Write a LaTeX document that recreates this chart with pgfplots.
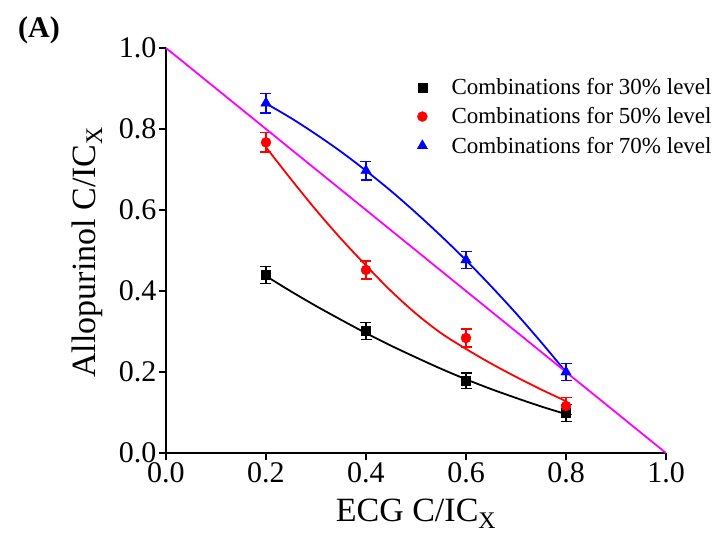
\documentclass[border=0pt]{standalone}
\usepackage{fontspec}
\setmainfont{Liberation Serif}
\usepackage{pgfplots}
\pgfplotsset{compat=1.18}
\definecolor{puremagenta}{RGB}{255,0,255}
\begin{document}
\begin{tikzpicture}
\begin{axis}[
  at={(0,0)}, anchor=south west,
  scale only axis, width=500pt, height=405pt,
  xmin=0, xmax=1, ymin=0, ymax=1,
  clip=false,
  axis lines=left,
  axis line style={line width=2pt, -},
  xtick={0,0.2,0.4,0.6,0.8,1},
  ytick={0,0.2,0.4,0.6,0.8,1},
  tick style={line width=1.8pt, black},
  major tick length=7pt,
  tick align=outside,
  /pgf/number format/assume math mode=true,
  xticklabel={\pgfmathprintnumber[fixed,fixed zerofill,precision=1]{\tick}},
  yticklabel={\pgfmathprintnumber[fixed,fixed zerofill,precision=1]{\tick}},
  ticklabel style={font=\fontsize{30}{33}\selectfont},
  xticklabel style={yshift=1pt},
  yticklabel style={xshift=1pt},
  xlabel={ECG C/IC\textsubscript{X}},
  ylabel={Allopurinol C/IC\textsubscript{X}},
  label style={font=\fontsize{34}{38}\selectfont},
  xlabel style={at={(axis description cs:0.5,-0.168)}, anchor=base},
  ylabel style={at={(axis description cs:-0.158,0.496)}, anchor=center},
  legend style={draw=none, fill=none, at={(axis cs:0.496,0.935)}, anchor=north west,
    font=\fontsize{23}{27}\selectfont, row sep=7.5pt,
    /tikz/every odd column/.append style={column sep=22pt}},
  legend cell align=left,
]
\addplot[only marks, black, mark=square*, mark size=4.5pt,
  error bars/.cd, y dir=both, y explicit,
  error bar style={line width=1.5pt},
  error mark options={line width=1.5pt, mark size=5.5pt, rotate=90}]
  coordinates {(0.2,0.44) +- (0,0.021) (0.4,0.301) +- (0,0.021) (0.6,0.178) +- (0,0.019) (0.8,0.099) +- (0,0.021)};
\addlegendentry{Combinations for 30\% level}
\addplot[only marks, red, mark=*, mark size=5pt,
  error bars/.cd, y dir=both, y explicit,
  error bar style={line width=1.5pt},
  error mark options={line width=1.5pt, mark size=5.5pt, rotate=90}]
  coordinates {(0.2,0.767) +- (0,0.024) (0.4,0.452) +- (0,0.022) (0.6,0.284) +- (0,0.022) (0.8,0.116) +- (0,0.021)};
\addlegendentry{Combinations for 50\% level}
\addplot[only marks, blue, mark=triangle*, mark size=6pt,
  error bars/.cd, y dir=both, y explicit,
  error bar style={line width=1.5pt},
  error mark options={line width=1.5pt, mark size=5.5pt, rotate=90}]
  coordinates {(0.2,0.864) +- (0,0.024) (0.4,0.697) +- (0,0.023) (0.6,0.477) +- (0,0.021) (0.8,0.200) +- (0,0.021)};
\addlegendentry{Combinations for 70\% level}
% fitted curves
\addplot[forget plot, black, line width=1.8pt, smooth] coordinates {(0.2,0.437) (0.25,0.399) (0.3,0.363) (0.35,0.329) (0.4,0.296) (0.45,0.265) (0.5,0.236) (0.55,0.208) (0.6,0.182) (0.65,0.158) (0.7,0.136) (0.75,0.115) (0.8,0.096)};
\addplot[forget plot, red, line width=1.8pt, smooth] coordinates {(0.2,0.755) (0.25,0.676) (0.3,0.600) (0.35,0.529) (0.4,0.463) (0.45,0.400) (0.5,0.344) (0.55,0.296) (0.6,0.257) (0.65,0.221) (0.7,0.188) (0.75,0.157) (0.8,0.128)};
\addplot[forget plot, blue, line width=1.8pt, smooth] coordinates {(0.2,0.863) (0.25,0.827) (0.3,0.787) (0.35,0.744) (0.4,0.697) (0.45,0.647) (0.5,0.593) (0.55,0.536) (0.6,0.476) (0.65,0.412) (0.7,0.345) (0.75,0.274) (0.8,0.200)};
\addplot[forget plot, puremagenta, line width=1.8pt] coordinates {(0,1) (1,0)};
\node[font=\bfseries\fontsize{30}{34}\selectfont] at (rel axis cs:-0.254,1.044) {(A)};
\end{axis}
\pgfresetboundingbox
\path (-166pt,-80pt) rectangle (549pt,453pt);
\end{tikzpicture}
\end{document}
